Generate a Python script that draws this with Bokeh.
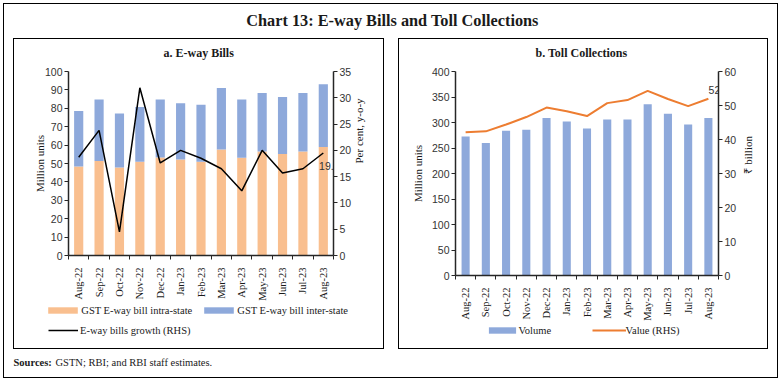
import math
from bokeh.plotting import figure
from bokeh.models import (ColumnDataSource, Range1d, LinearAxis, FixedTicker,
                          Legend, LegendItem, Label, Spacer)
from bokeh.layouts import column, row
from bokeh.embed import file_html
from bokeh.resources import INLINE
from bokeh.core.properties import value

# ---------------- data ----------------
months = ["Aug-22", "Sep-22", "Oct-22", "Nov-22", "Dec-22", "Jan-23", "Feb-23",
          "Mar-23", "Apr-23", "May-23", "Jun-23", "Jul-23", "Aug-23"]
eway_intra = [48.4, 51.4, 47.8, 50.9, 53.2, 52.2, 50.9, 57.6, 53.1, 56.5, 55.2, 56.5, 59.0]
eway_inter = [30.2, 33.4, 29.4, 29.8, 31.6, 30.6, 31.0, 33.4, 31.7, 31.8, 31.0, 31.8, 34.1]
eway_growth = [18.7, 23.8, 4.5, 31.9, 17.6, 20.0, 18.5, 16.5, 12.3, 20.0, 15.7, 16.5, 19.5]
toll_volume = [272.5, 260, 283.7, 285.6, 309, 302, 288, 306, 306, 336, 317, 296, 309]
toll_value = [42.1, 42.4, 44.4, 46.6, 49.4, 48.3, 46.9, 50.7, 51.6, 54.3, 51.9, 49.8, 52.0]
left_ticks = list(range(0, 101, 10))
growth_ticks = list(range(0, 36, 5))
vol_ticks = list(range(0, 401, 50))
val_ticks = list(range(0, 61, 10))

# ---------------- styling ----------------
SERIF = "Liberation Serif"
SANS = "Liberation Sans"
TXT = "#1a1a1a"
NUM = "#333333"
ORANGE_BAR = "#F9BF8F"
BLUE_BAR = "#8EA9DB"
ORANGE_LINE = "#ED7D31"
TOTAL_W, TOTAL_H = 781, 381
W_L, W_R, H_ROW = 385, 384, 325
SIDE = 6
H_TITLE = 31
H_SRC = TOTAL_H - H_TITLE - H_ROW
H_SUB = 30
H_CHART_A, H_CHART_B = 242, 262
BOX = {"outline": "1px solid #000000", "outline-offset": "-8px"}


def blank(w, h, xr=(0, 1), yr=(0, 1)):
    p = figure(width=w, height=h, x_axis_type=None, y_axis_type=None,
               x_range=Range1d(*xr), y_range=Range1d(*yr),
               toolbar_location=None, output_backend="svg", min_border=0,
               outline_line_color=None, border_fill_color=None,
               background_fill_color=None)
    return p


def style_y(ax, standoff):
    ax.axis_line_color = "#262626"
    ax.axis_line_width = 1.5
    ax.major_tick_line_color = "#262626"
    ax.major_tick_out = 4
    ax.major_tick_in = 0
    ax.minor_tick_line_color = None
    ax.major_label_standoff = 2
    ax.major_label_text_font = SANS
    ax.major_label_text_font_size = "10.5px"
    ax.major_label_text_color = NUM
    ax.axis_label_text_font = SERIF
    ax.axis_label_text_font_size = "11px"
    ax.axis_label_text_font_style = "normal"
    ax.axis_label_text_color = TXT
    ax.axis_label_standoff = standoff


def style_x(ax, n, labels):
    ax.ticker = FixedTicker(ticks=list(range(n)),
                            minor_ticks=[i - 0.5 for i in range(n + 1)])
    ax.major_label_overrides = {i: m for i, m in enumerate(labels)}
    ax.major_label_orientation = math.pi / 2
    ax.axis_line_color = "#262626"
    ax.axis_line_width = 1.5
    ax.major_tick_out = 0
    ax.major_tick_in = 0
    ax.major_tick_line_color = None
    ax.minor_tick_out = 4
    ax.minor_tick_in = 0
    ax.minor_tick_line_color = "#262626"
    ax.major_label_standoff = 8
    ax.major_label_text_font = SERIF
    ax.major_label_text_font_size = "10.5px"
    ax.major_label_text_color = TXT


def legend(items, loc, gw, gh, standoff, label_w=20):
    return Legend(items=items, location=loc, orientation="horizontal",
                  glyph_width=gw, glyph_height=gh, label_standoff=standoff,
                  label_height=12, label_width=label_w, label_text_font=SERIF,
                  label_text_font_size="10.5px", label_text_color=TXT,
                  padding=0, margin=0, spacing=0, border_line_color=None,
                  background_fill_alpha=0, inactive_fill_alpha=0)


def chart(w, h, fl, fr, ft, fb, yr):
    p = figure(width=w, height=h, x_range=Range1d(-0.5, len(months) - 0.5),
               y_range=Range1d(*yr), toolbar_location=None, output_backend="svg",
               min_border_left=fl, min_border_right=fr, min_border_top=ft,
               min_border_bottom=fb, outline_line_color=None,
               border_fill_color=None, background_fill_color=None)
    p.xgrid.visible = False
    p.ygrid.visible = False
    return p


def subtitle(w, text, x):
    s = blank(w, H_SUB)
    s.add_layout(Label(x=x, y=H_SUB - 21.5, x_units="screen", y_units="screen",
                       text=text, text_align="left", text_baseline="middle",
                       text_font=SERIF, text_font_style="bold", text_font_size="12px",
                       text_color=TXT))
    return s


# ---------------- title strip ----------------
pt = blank(TOTAL_W, H_TITLE)
pt.add_layout(Label(x=392, y=H_TITLE - 20, x_units="screen", y_units="screen",
                    text="Chart 13: E-way Bills and Toll Collections",
                    text_align="center", text_baseline="middle",
                    text_font=SERIF, text_font_style="bold",
                    text_font_size="16.3px", text_color=TXT))

n = len(months)
xs = list(range(n))

# ---------------- panel a ----------------
src_a = ColumnDataSource(dict(x=xs, intra=eway_intra, inter=eway_inter, growth=eway_growth))
FL_A, FR_A, FT_A = 62, 58, 10
FB_A = H_CHART_A - 195
pa = chart(W_L, H_CHART_A, FL_A, FR_A, FT_A, FB_A, (0, 100))
pa.extra_y_ranges = {"g": Range1d(0, 35)}

pa.vbar_stack(["intra", "inter"], x="x", width=0.45, source=src_a,
              color=[ORANGE_BAR, BLUE_BAR], line_color=None)
pa.line(x="x", y="growth", source=src_a, y_range_name="g",
        line_color="#000000", line_width=1.5)
pa.text(x=[xs[-1]], y=[eway_growth[-1]], text=[str(eway_growth[-1])],
        y_range_name="g", text_font=value(SANS), text_font_size="10.5px",
        text_color=NUM, text_align="center", text_baseline="middle",
        x_offset=6, y_offset=13)

ya = pa.yaxis[0]
ya.ticker = FixedTicker(ticks=left_ticks)
ya.axis_label = "Million units"
style_y(ya, -4)
ya_r = LinearAxis(y_range_name="g", ticker=FixedTicker(ticks=growth_ticks),
                  axis_label="Per cent, y-o-y")
style_y(ya_r, 5)
ya_r.axis_label_orientation = math.pi / 2
pa.add_layout(ya_r, "right")
style_x(pa.xaxis[0], n, months)

sa = subtitle(W_L, "a. E-way Bills", 163 - SIDE)

# legend strip for panel a: hidden copies of the series supply the swatches
H_LEG_A = H_ROW - H_SUB - H_CHART_A
la = blank(W_L, H_LEG_A)
sw_a = la.vbar_stack(["intra", "inter"], x="x", width=0.45, source=src_a,
                     color=[ORANGE_BAR, BLUE_BAR], line_color=None)
sw_growth = la.line(x="x", y="growth", source=src_a, line_color="#000000", line_width=1.5)
for r in list(sw_a) + [sw_growth]:
    r.visible = False
la.add_layout(legend([LegendItem(label="GST E-way bill intra-state", renderers=[sw_a[0]]),
                      LegendItem(label="GST E-way bill inter-state", renderers=[sw_a[1]])],
                     (48 - SIDE - 3.7, H_LEG_A - 13), 37, 8, 0, 119))
la.add_layout(legend([LegendItem(label="E-way bills growth (RHS)", renderers=[sw_growth])],
                     (48 - SIDE, H_LEG_A - 33), 30, 8, 2))

# ---------------- panel b ----------------
src_b = ColumnDataSource(dict(x=xs, volume=toll_volume, val=toll_value))
FL_B, FR_B, FT_B = 64, 57, 10
FB_B = H_CHART_B - 214
pb = chart(W_R, H_CHART_B, FL_B, FR_B, FT_B, FB_B, (0, 400))
pb.extra_y_ranges = {"v": Range1d(0, 60)}

pb.vbar(x="x", top="volume", width=0.4, source=src_b, color=BLUE_BAR, line_color=None)
pb.line(x="x", y="val", source=src_b, y_range_name="v",
        line_color=ORANGE_LINE, line_width=2)
pb.text(x=[xs[-1]], y=[toll_value[-1]], text=["%d" % round(toll_value[-1])],
        y_range_name="v", text_font=value(SANS), text_font_size="10.5px",
        text_color=NUM, text_align="center", text_baseline="middle",
        x_offset=6, y_offset=-9)

yb = pb.yaxis[0]
yb.ticker = FixedTicker(ticks=vol_ticks)
yb.axis_label = "Million units"
style_y(yb, 5)
yb_r = LinearAxis(y_range_name="v", ticker=FixedTicker(ticks=val_ticks),
                  axis_label="₹ billion")
style_y(yb_r, 9)
yb_r.axis_label_orientation = math.pi / 2
pb.add_layout(yb_r, "right")
style_x(pb.xaxis[0], n, months)

sb = subtitle(W_R, "b. Toll Collections", 535 - 391)

H_LEG_B = H_ROW - H_SUB - H_CHART_B
lb = blank(W_R, H_LEG_B)
sw_vol = lb.vbar(x="x", top="volume", width=0.4, source=src_b, color=BLUE_BAR, line_color=None)
sw_val = lb.line(x="x", y="val", source=src_b, line_color=ORANGE_LINE, line_width=2)
sw_vol.visible = False
sw_val.visible = False
lb.add_layout(legend([LegendItem(label="Volume", renderers=[sw_vol]),
                      LegendItem(label="Value (RHS)", renderers=[sw_val])],
                     (488 - 3.4 - 391, H_LEG_B - 13), 34, 8, 0, 73))

# ---------------- sources strip ----------------
ps = blank(TOTAL_W, H_SRC)
ps.add_layout(Label(x=13, y=H_SRC - 6, x_units="screen", y_units="screen",
                    text="Sources:", text_align="left", text_baseline="middle",
                    text_font=SERIF, text_font_style="bold", text_font_size="10.5px",
                    text_color=TXT))
ps.add_layout(Label(x=55, y=H_SRC - 6, x_units="screen", y_units="screen",
                    text="GSTN; RBI; and RBI staff estimates.", text_align="left",
                    text_baseline="middle", text_font=SERIF, text_font_size="10.5px",
                    text_color=TXT))

panel_a = column(row(sa, spacing=0), pa, row(la, spacing=0), spacing=0, styles=BOX)
panel_b = column(row(sb, spacing=0), pb, row(lb, spacing=0), spacing=0, styles=BOX)
mid = row(Spacer(width=SIDE, height=H_ROW), panel_a, panel_b,
          Spacer(width=SIDE, height=H_ROW), spacing=0)
layout = column(pt, mid, ps, spacing=0,
                styles={"outline": "1px solid #000000", "outline-offset": "-4px"})
open("out.html", "w").write(file_html(layout, INLINE))
